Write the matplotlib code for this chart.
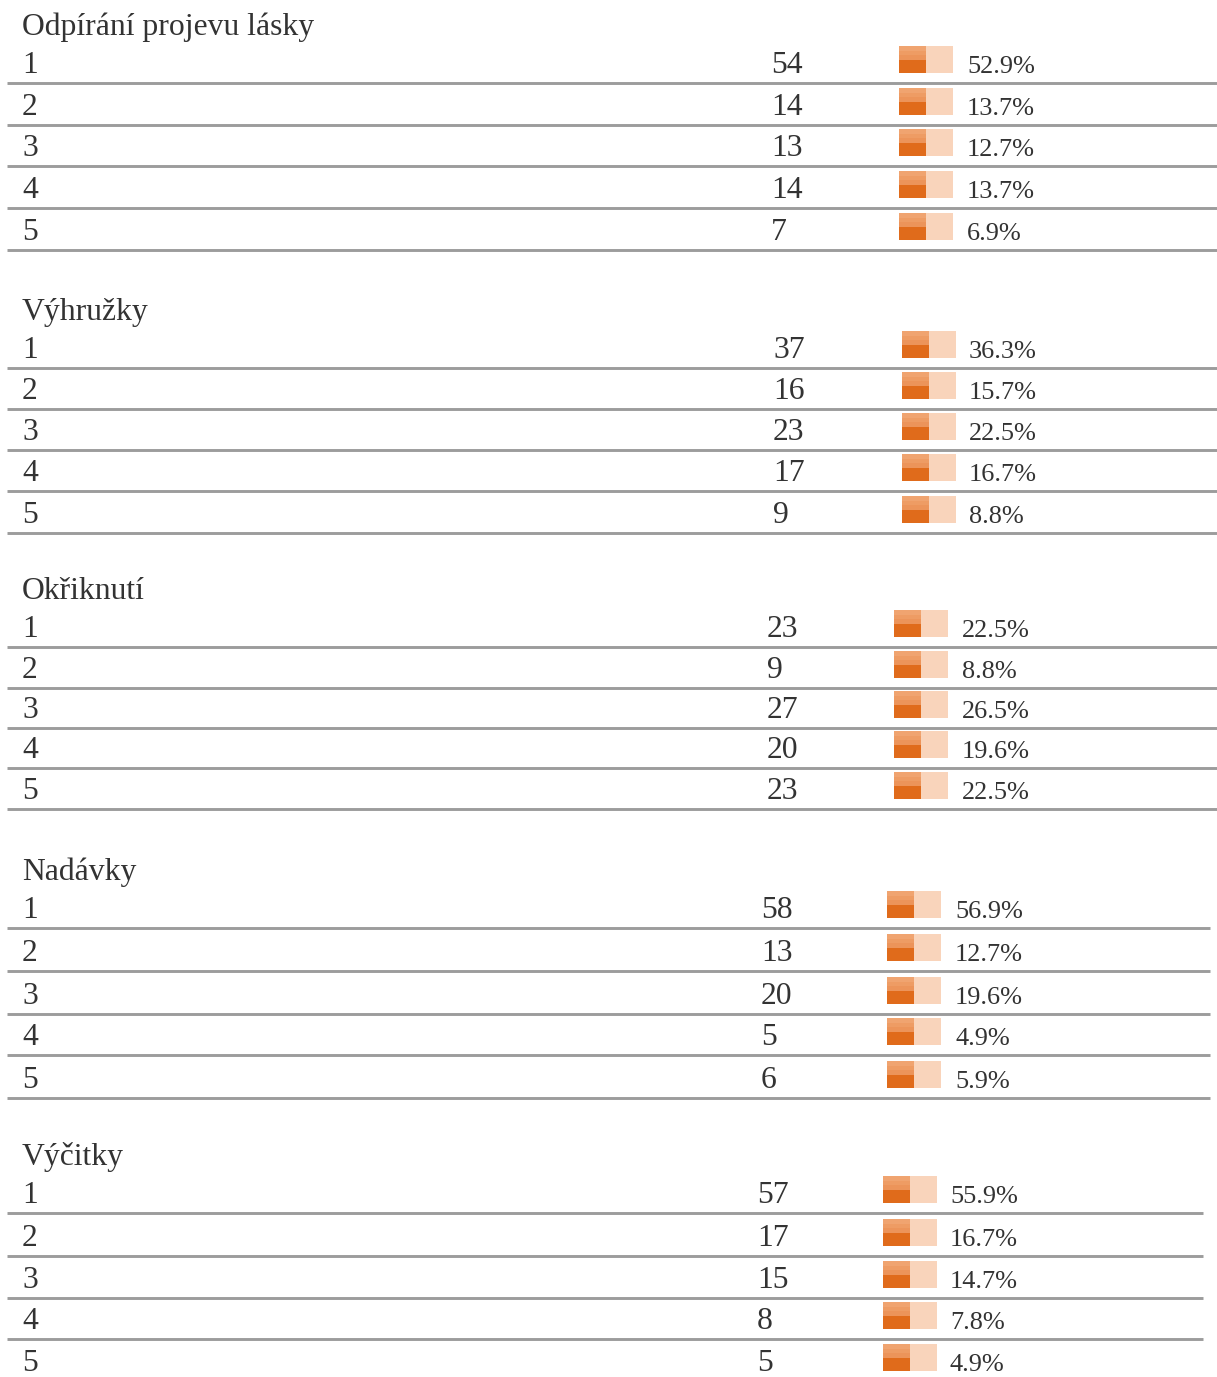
import matplotlib.pyplot as plt
from matplotlib.patches import Rectangle

plt.rcParams['font.family'] = ['Liberation Serif', 'DejaVu Serif']

# Data
titles = ["Odpírání projevu lásky", "Výhružky", "Okřiknutí", "Nadávky", "Výčitky"]
row_labels = ["1", "2", "3", "4", "5"]
counts = [
    [54, 14, 13, 14, 7],
    [37, 16, 23, 17, 9],
    [23, 9, 27, 20, 23],
    [58, 13, 20, 5, 6],
    [57, 17, 15, 8, 5],
]
percents = [
    [52.9, 13.7, 12.7, 13.7, 6.9],
    [36.3, 15.7, 22.5, 16.7, 8.8],
    [22.5, 8.8, 26.5, 19.6, 22.5],
    [56.9, 12.7, 19.6, 4.9, 5.9],
    [55.9, 16.7, 14.7, 7.8, 4.9],
]

# layout (pixel coords)
line_ys = [
    [83, 125, 166, 208, 250],
    [368, 409, 450, 491, 533],
    [647, 688, 728, 768, 809],
    [928, 971, 1014, 1055, 1098],
    [1213, 1256, 1298, 1339, 1381],
]
num_x = [771, 773, 767, 761, 757]
icon_x = [899, 902, 894, 887, 883]
pct_x = [967, 969, 962, 955, 950]
line_end = [1217, 1217, 1217, 1210, 1203]

text_color = '#333333'
line_color = '#9c9c9c'
fs = 22.8

fig = plt.figure(figsize=(12.17, 13.77), dpi=100)
ax = fig.add_axes([0, 0, 1, 1])
ax.set_xlim(0, 1217)
ax.set_ylim(1377, 0)
ax.axis('off')


def draw_icon(ax, x, base):
    h = 27
    top = base - h
    # lighter upper part of the orange block, a few bands
    bands = ['#f0a470', '#ee9c64', '#ec945a']
    bh = 14 / len(bands)
    for i, c in enumerate(bands):
        ax.add_patch(Rectangle((x, top + i * bh), 27, bh + 0.3, color=c, lw=0))
    ax.add_patch(Rectangle((x, top + 14), 27, h - 14, color='#e06b1b', lw=0))
    ax.add_patch(Rectangle((x + 27, top), 27, h, color='#f9d4bb', lw=0))


for s in range(len(titles)):
    first_base = line_ys[s][0] - 10
    ax.text(22, first_base - 38, titles[s], fontsize=fs, color=text_color, va='baseline')
    for r in range(5):
        ly = line_ys[s][r]
        base = ly - 10
        ax.text(22, base, row_labels[r], fontsize=fs, color=text_color, va='baseline')
        ax.text(num_x[s], base, str(counts[s][r]), fontsize=fs, color=text_color, va='baseline')
        draw_icon(ax, icon_x[s], base)
        ax.text(pct_x[s], base, "%.1f%%" % percents[s][r], fontsize=fs * 0.83,
                color=text_color, va='baseline')
        ax.plot([7, line_end[s]], [ly, ly], color=line_color, lw=2.1, solid_capstyle='butt')

fig.savefig('out.png', dpi=100)
